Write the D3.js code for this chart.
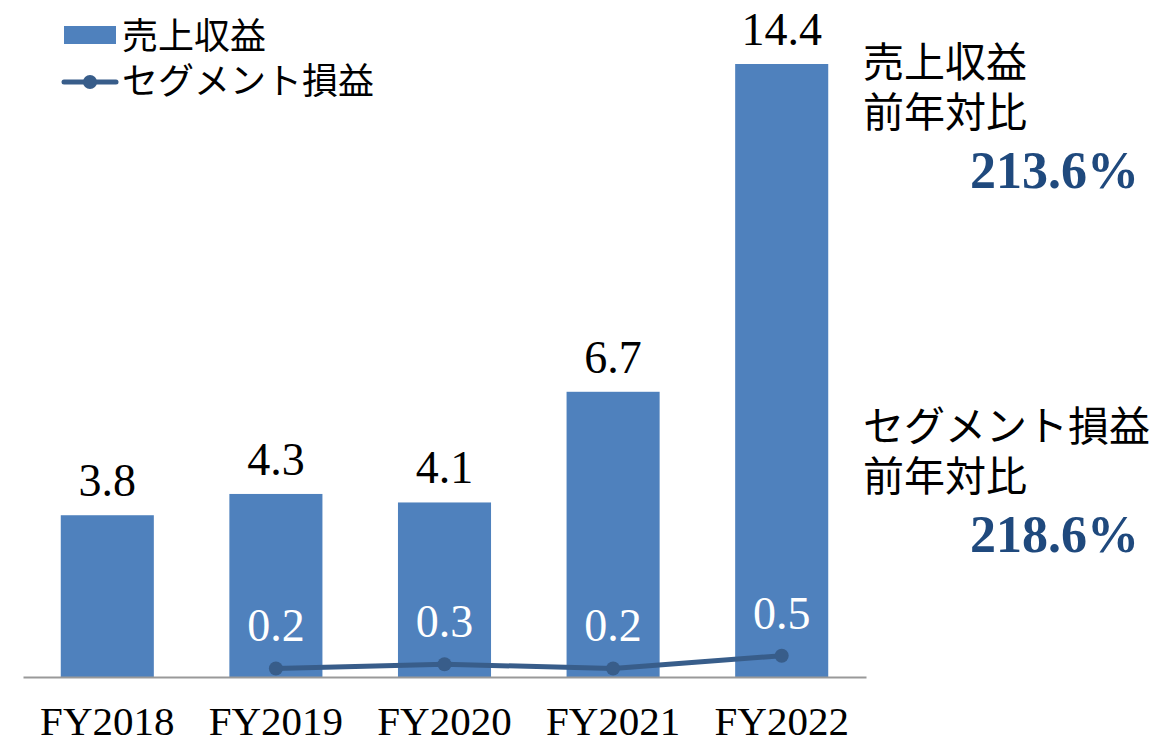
<!DOCTYPE html>
<html>
<head>
<meta charset="utf-8">
<script src="https://cdn.jsdelivr.net/npm/d3@7"></script>
<style>
  html, body { margin: 0; padding: 0; background: #fff; }
  svg { display: block; }
  text { font-family: "Liberation Serif", "Noto Sans CJK JP", serif; }
</style>
</head>
<body>
<svg id="chart" width="1175" height="744"></svg>
<script>
// Fiscal years on the x axis
const categories = ["FY2018", "FY2019", "FY2020", "FY2021", "FY2022"];
// Revenue (bars)
const revenue = [3.8, 4.3, 4.1, 6.7, 14.4];
// Segment profit (line); no value for FY2018
const segmentProfit = [null, 0.2, 0.3, 0.2, 0.5];
// Legend and side notes
const legendLabels = ["売上収益", "セグメント損益"];
const notes = [
  { title: ["売上収益", "前年対比"], value: "213.6%" },
  { title: ["セグメント損益", "前年対比"], value: "218.6%" }
];

const barColor = "#4F81BD";
const lineColor = "#385D8A";
const noteColor = "#1F497D";

const svg = d3.select("#chart");

const x = d3.scaleBand()
  .domain(categories)
  .range([23, 866])
  .paddingInner(0.448)
  .paddingOuter(0.224);

const y = d3.scaleLinear()
  .domain([0, 14.4])
  .range([677, 64]);

// Bars
svg.append("g").selectAll("rect")
  .data(categories.map((c, i) => ({ c, v: revenue[i] })))
  .join("rect")
  .attr("x", d => x(d.c))
  .attr("y", d => y(d.v))
  .attr("width", x.bandwidth())
  .attr("height", d => y(0) - y(d.v))
  .attr("fill", barColor);

// Bar value labels
svg.append("g").selectAll("text")
  .data(categories.map((c, i) => ({ c, v: revenue[i] })))
  .join("text")
  .attr("x", d => x(d.c) + x.bandwidth() / 2)
  .attr("y", d => y(d.v) - 19)
  .attr("text-anchor", "middle")
  .attr("font-size", 46)
  .attr("fill", "#000")
  .text(d => d.v.toFixed(1));

// Baseline axis
const axis = svg.append("g")
  .attr("transform", `translate(0,${y(0)})`)
  .call(d3.axisBottom(x).tickSize(0).tickPadding(0));
axis.select(".domain").attr("stroke", "#999").attr("stroke-width", 2);
axis.selectAll(".tick text")
  .attr("font-size", 41)
  .attr("font-family", "Liberation Serif, serif")
  .attr("fill", "#000")
  .attr("dy", null)
  .attr("y", 58);

// Segment profit line
const pts = categories.map((c, i) => ({ c, v: segmentProfit[i] })).filter(d => d.v !== null);
const line = d3.line()
  .x(d => x(d.c) + x.bandwidth() / 2)
  .y(d => y(d.v));
svg.append("path")
  .datum(pts)
  .attr("d", line)
  .attr("fill", "none")
  .attr("stroke", lineColor)
  .attr("stroke-width", 5)
  .attr("stroke-linejoin", "round");
svg.append("g").selectAll("circle")
  .data(pts)
  .join("circle")
  .attr("cx", d => x(d.c) + x.bandwidth() / 2)
  .attr("cy", d => y(d.v))
  .attr("r", 7)
  .attr("fill", lineColor);
svg.append("g").selectAll("text")
  .data(pts)
  .join("text")
  .attr("x", d => x(d.c) + x.bandwidth() / 2)
  .attr("y", d => y(d.v) - 27)
  .attr("text-anchor", "middle")
  .attr("font-size", 46)
  .attr("fill", "#fff")
  .text(d => d.v.toFixed(1));

// Legend
const legend = svg.append("g");
legend.append("rect")
  .attr("x", 64).attr("y", 26).attr("width", 52).attr("height", 18)
  .attr("fill", barColor);
legend.append("line")
  .attr("x1", 64).attr("x2", 116).attr("y1", 82).attr("y2", 82)
  .attr("stroke", lineColor).attr("stroke-width", 5).attr("stroke-linecap", "round");
legend.append("circle")
  .attr("cx", 90).attr("cy", 82).attr("r", 7).attr("fill", lineColor);
legend.selectAll("text")
  .data(legendLabels)
  .join("text")
  .attr("x", 122)
  .attr("y", (d, i) => 49 + i * 45)
  .attr("font-size", 36)
  .attr("font-family", "Noto Sans CJK JP, sans-serif")
  .attr("fill", "#000")
  .text(d => d);

// Year-on-year notes
const noteTops = [77, 441];
notes.forEach((n, i) => {
  const g = svg.append("g");
  n.title.forEach((t, j) => {
    g.append("text")
      .attr("x", 863)
      .attr("y", noteTops[i] + j * 50)
      .attr("font-size", 41)
      .attr("font-family", "Noto Sans CJK JP, sans-serif")
      .attr("fill", "#000")
      .text(t);
  });
  g.append("text")
    .attr("x", 1139)
    .attr("y", noteTops[i] + 111)
    .attr("text-anchor", "end")
    .attr("font-size", 52)
    .attr("font-weight", "bold")
    .attr("font-family", "Liberation Serif, serif")
    .attr("fill", noteColor)
    .text(n.value);
});
</script>
</body>
</html>
